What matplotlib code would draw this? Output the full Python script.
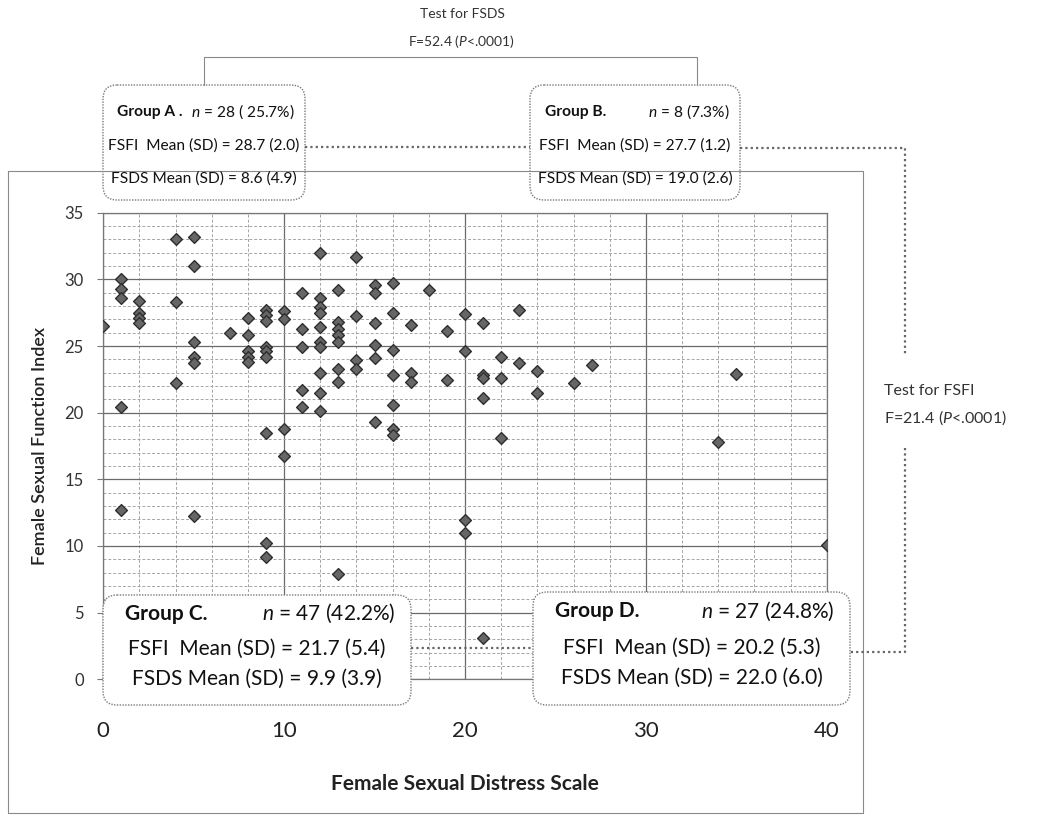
import matplotlib
matplotlib.use("Agg")
import matplotlib.pyplot as plt
from matplotlib.patches import FancyBboxPatch
import numpy as np

plt.rcParams["font.family"] = ["Lato", "DejaVu Sans"]
plt.rcParams["mathtext.fontset"] = "custom"
plt.rcParams["mathtext.it"] = "Lato:italic"
plt.rcParams["mathtext.rm"] = "Lato"

# FSDS (x) and FSFI (y) per participant
fsds = [0,
        1, 1, 1, 1, 1,
        2, 2, 2, 2,
        4, 4, 4,
        5, 5, 5, 5, 5, 5,
        7,
        8, 8, 8, 8, 8,
        9, 9, 9, 9, 9, 9, 9, 9, 9,
        10, 10, 10, 10,
        11, 11, 11, 11, 11,
        12, 12, 12, 12, 12, 12, 12, 12, 12, 12,
        13, 13, 13, 13, 13, 13, 13, 13,
        14, 14, 14, 14,
        15, 15, 15, 15, 15, 15,
        16, 16, 16, 16, 16, 16, 16,
        17, 17, 17,
        18,
        19, 19,
        20, 20, 20, 20,
        21, 21, 21, 21, 21,
        22, 22, 22,
        23, 23,
        24, 24,
        26, 27, 34, 35, 40]
fsfi = [26.5,
        30.0, 29.3, 28.6, 20.45, 12.7,
        28.4, 27.5, 27.1, 26.7,
        33.0, 28.3, 22.25,
        33.2, 31.0, 25.3, 24.2, 23.7, 12.25,
        25.95,
        27.1, 25.8, 24.6, 24.2, 23.8,
        27.7, 27.3, 26.9, 24.9, 24.6, 24.2, 18.45, 10.25, 9.15,
        27.6, 27.0, 18.8, 16.75,
        28.95, 26.3, 24.9, 21.7, 20.45,
        31.95, 28.6, 27.95, 27.45, 26.45, 25.3, 24.95, 22.95, 21.45, 20.1,
        29.2, 26.8, 26.3, 25.8, 25.3, 23.3, 22.3, 7.9,
        31.7, 27.25, 23.95, 23.25,
        29.6, 28.95, 26.75, 25.1, 24.1, 19.3,
        29.7, 27.45, 24.7, 22.8, 20.6, 18.75, 18.3,
        26.6, 22.95, 22.3,
        29.2,
        26.1, 22.45,
        27.4, 24.65, 11.95, 10.95,
        26.75, 22.8, 22.6, 21.1, 3.1,
        24.15, 22.6, 18.1,
        27.7, 23.75,
        23.15, 21.5,
        22.25, 23.6, 17.8, 22.9, 10.07]

x_ticks = [0, 10, 20, 30, 40]
y_ticks = [0, 5, 10, 15, 20, 25, 30, 35]

group_names = ["Group A .", "Group B.", "Group C.", "Group D."]
group_n = [r"$\it{n}$ = 28 ( 25.7%)", r"$\it{n}$ = 8 (7.3%)",
           r"$\it{n}$ = 47 (42.2%)", r"$\it{n}$ = 27 (24.8%)"]
fsfi_stats = ["28.7 (2.0)", "27.7 (1.2)", "21.7 (5.4)", "20.2 (5.3)"]
fsds_stats = ["8.6 (4.9)", "19.0 (2.6)", "9.9 (3.9)", "22.0 (6.0)"]

W, H = 1037, 816
fig = plt.figure(figsize=(W / 100, H / 100), dpi=100)

# main scatter panel (pixel box 103..827 x 213..679)
ax = fig.add_axes([103.3 / W, 1 - 679.3 / H, 723.4 / W, 466.6 / H])
ax.scatter(fsds, fsfi, marker="D", s=36, facecolor="#666666",
           edgecolor="#2e2e2e", linewidth=1.0, zorder=3)
ax.set_xlim(0, 40)
ax.set_ylim(0, 35)
ax.set_xticks(x_ticks)
ax.set_yticks(y_ticks)
ax.set_xticks(np.arange(0, 41, 2), minor=True)
ax.set_yticks(np.arange(0, 36, 1), minor=True)
ax.grid(which="major", color="#6a6a6a", linewidth=0.9, linestyle="-")
ax.grid(which="minor", color="#a5a5a5", linewidth=0.7, linestyle=(0, (3, 2)))
ax.set_axisbelow(True)
for sp in ax.spines.values():
    sp.set_color("#777777")
    sp.set_linewidth(0.9)
ax.tick_params(axis="x", which="both", length=0, pad=30, labelsize=16,
               labelcolor="#222222")
ax.tick_params(axis="y", which="major", length=4, color="#777777", pad=10,
               labelsize=12, labelcolor="#333333")
ax.tick_params(axis="y", which="minor", length=0)
ax.set_xlabel("Female Sexual Distress Scale", fontsize=15, fontweight="bold",
              color="#222222", labelpad=24)
ax.set_ylabel("Female Sexual Function Index", fontsize=13, fontweight="semibold",
              color="#222222", labelpad=12)

# overlay in pixel coordinates for boxes and connectors
ov = fig.add_axes([0, 0, 1, 1])
ov.set_xlim(0, W)
ov.set_ylim(H, 0)
ov.axis("off")
ov.set_zorder(5)

frame_c = "#8a8a8a"
ov.plot([8, 863, 863, 8, 8], [171, 171, 813, 813, 171], color=frame_c, lw=0.8)

# bracket for FSDS test
ov.plot([204, 204, 697, 697], [85, 57, 57, 85], color=frame_c, lw=0.8)
ov.text(462, 14, "Test for FSDS", ha="center", va="center", fontsize=10,
        color="#333333")
ov.text(462, 41, r"F=52.4 ($\it{P}$<.0001)", ha="center", va="center",
        fontsize=10, color="#333333")

dot = dict(color="#666666", lw=1.6, linestyle=(0, (1, 1.4)))
ov.plot([305, 530], [147, 147], **dot)
ov.plot([411, 533], [648, 648], **dot)
ov.plot([740, 905, 905], [148, 148, 355], **dot)
ov.plot([905, 905, 850], [448, 652, 652], **dot)
ov.text(884, 391, "Test for FSFI", ha="left", va="center", fontsize=11.5,
        color="#333333")
ov.text(884, 418, r"F=21.4 ($\it{P}$<.0001)", ha="left", va="center",
        fontsize=11.5, color="#333333")

boxes = [(103, 85, 202, 115), (530, 85, 210, 115),
         (103, 595, 308, 110), (533, 592, 317, 113)]
sizes = [11.2, 11.2, 15, 15]
rows = [(0.235, 0.53, 0.81), (0.235, 0.53, 0.81),
        (0.17, 0.49, 0.76), (0.17, 0.49, 0.76)]
for i, (bx, by, bw, bh) in enumerate(boxes):
    ov.add_patch(FancyBboxPatch((bx, by), bw, bh,
                                boxstyle="round,pad=0,rounding_size=14",
                                facecolor="white", edgecolor="#7a7a7a",
                                linewidth=1.0, linestyle=(0, (1, 1))))
    fs = sizes[i]
    r1, r2, r3 = rows[i]
    ov.text(bx + 0.07 * bw, by + r1 * bh, group_names[i], fontsize=fs,
            fontweight="bold", ha="left", va="center", color="#111111")
    ov.text(bx + bw - 0.05 * bw, by + r1 * bh, group_n[i], fontsize=fs,
            ha="right", va="center", color="#111111")
    ov.text(bx + bw / 2, by + r2 * bh, "FSFI  Mean (SD) = " + fsfi_stats[i],
            fontsize=fs, ha="center", va="center", color="#111111")
    ov.text(bx + bw / 2, by + r3 * bh, "FSDS Mean (SD) = " + fsds_stats[i],
            fontsize=fs, ha="center", va="center", color="#111111")

fig.savefig("out.png", dpi=100)
